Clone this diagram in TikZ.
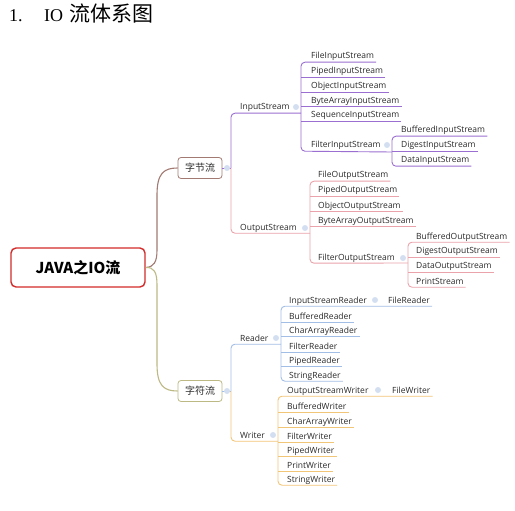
\documentclass[tikz,border=0pt]{standalone}
\usepackage{fontspec}
\setmainfont{Liberation Serif}
\newfontfamily\cjk{Noto Sans CJK SC}
\newfontfamily\lblf{Open Sans}
\definecolor{purp}{HTML}{9A6FD1}
\definecolor{pnk}{HTML}{EBA3AB}
\definecolor{blu}{HTML}{A3BEE6}
\definecolor{yel}{HTML}{F2C679}
\definecolor{brn}{HTML}{A27A72}
\definecolor{olv}{HTML}{BDB985}
\definecolor{mk}{HTML}{D3DFF1}
\definecolor{txt}{HTML}{2A2A2A}
\definecolor{javared}{HTML}{D42B2B}
\tikzset{
  lbl/.style={font=\lblf\fontsize{8.5}{10}\selectfont, text=txt, inner xsep=2, inner ysep=3, text height=6, text depth=0, anchor=base west},
  cbox/.style={draw, rounded corners=3, line width=0.8, minimum width=44, minimum height=21, inner sep=0, fill=white, font=\cjk\fontsize{10}{12}\selectfont, text=txt},
  mkr/.style={circle, fill=mk, minimum size=6, inner sep=0},
  br/.style={line width=0.9, rounded corners=4},
}
\begin{document}
\begin{tikzpicture}[x=1pt,y=-1pt]
\useasboundingbox[fill=white] (0,0) rectangle (515,511);

% title
\node[anchor=base west, inner sep=0, font=\fontsize{18}{20}\selectfont] (t1) at (9,22) {1.};
\node[anchor=base west, inner sep=0, font=\fontsize{18}{20}\selectfont] (t2) at (44,22) {IO};
\node[anchor=base west, inner sep=0, font=\cjk\fontsize{21}{23}\selectfont] (t3) at (69,22) {流体系图};

% root
\node[draw=javared, line width=1.4, rounded corners=5, minimum width=134, minimum height=39, inner sep=0, text=black,
      font=\cjk\bfseries\fontsize{15}{17}\selectfont] (java) at (78,267.5) {JAVA之IO流};

\node[cbox, draw=brn] (zj) at (200,168) {字节流};
\node[cbox, draw=olv] (zf) at (200,391) {字符流};

\draw[brn, line width=1.1] (java.east) .. controls (154,267) and (157,262) .. (157,250) -- (157,195) .. controls (157,173) and (164,168) .. (zj.west);
\draw[olv, line width=1.1] (java.east) .. controls (154,267) and (157,272) .. (157,285) -- (157,364) .. controls (157,386) and (164,391) .. (zf.west);

% ---------- byte streams ----------
\coordinate (zjv) at (231,168);
\node[lbl] (is) at (238,110) {InputStream};
\node[lbl] (os) at (238,230) {OutputStream};
\coordinate (isV) at (301,113);
\coordinate (fisV) at (392,152);
\coordinate (osV) at (310,233);
\coordinate (fosV) at (408,263);

\node[lbl] (fis) at (309,59) {FileInputStream};
\node[lbl] (pis) at (309,74) {PipedInputStream};
\node[lbl] (ois) at (309,89) {ObjectInputStream};
\node[lbl] (bais) at (309,103) {ByteArrayInputStream};
\node[lbl] (sis) at (309,118) {SequenceInputStream};
\node[lbl] (fltis) at (309,148) {FilterInputStream};
\node[lbl] (bis) at (399,133) {BufferedInputStream};
\node[lbl] (dis) at (399,148) {DigestInputStream};
\node[lbl] (dais) at (399,163) {DataInputStream};

\node[lbl] (fos) at (316,178) {FileOutputStream};
\node[lbl] (pos) at (316,193) {PipedOutputStream};
\node[lbl] (oos) at (316,208) {ObjectOutputStream};
\node[lbl] (baos) at (316,223) {ByteArrayOutputStream};
\node[lbl] (fltos) at (316,260) {FilterOutputStream};
\node[lbl] (bos) at (414,239) {BufferedOutputStream};
\node[lbl] (dos) at (414,254) {DigestOutputStream};
\node[lbl] (daos) at (414,269) {DataOutputStream};
\node[lbl] (ps) at (414,284) {PrintStream};

\draw[purp, br] (zj.east) -- (zjv);
\draw[purp, br] (zjv) |- (is.south -| isV);
\draw[pnk, br] (zjv) |- (os.south -| osV);

\draw[purp, br] (fis.south east) -- (fis.south west -| isV) -- (fltis.south west -| isV) -- (fisV);
\foreach \n in {pis,ois,bais,sis} \draw[purp, line width=0.9] (\n.south west -| isV) -- (\n.south east);
\draw[purp, br] (bis.south east) -- (bis.south west -| fisV) -- (dais.south west -| fisV) -- (dais.south east);
\draw[purp, line width=0.9] (dis.south west -| fisV) -- (dis.south east);

\draw[pnk, br] (fos.south east) -- (fos.south west -| osV) -- (fltos.south west -| osV) -- (fosV);
\foreach \n in {pos,oos,baos} \draw[pnk, line width=0.9] (\n.south west -| osV) -- (\n.south east);
\draw[pnk, br] (bos.south east) -- (bos.south west -| fosV) -- (ps.south west -| fosV) -- (ps.south east);
\foreach \n in {dos,daos} \draw[pnk, line width=0.9] (\n.south west -| fosV) -- (\n.south east);

% ---------- character streams ----------
\coordinate (zfv) at (231,391);
\node[lbl] (rd) at (238,341) {Reader};
\node[lbl] (wr) at (238,438) {Writer};
\coordinate (rdV) at (281,344);
\coordinate (wrV) at (278,441);

\node[lbl] (isr) at (287,303) {InputStreamReader};
\node[lbl] (frd) at (386,303) {FileReader};
\node[lbl] (brd) at (287,319) {BufferedReader};
\node[lbl] (car) at (287,333) {CharArrayReader};
\node[lbl] (fltr) at (287,349) {FilterReader};
\node[lbl] (pr) at (287,363) {PipedReader};
\node[lbl] (sr) at (287,378) {StringReader};

\node[lbl] (osw) at (285,393) {OutputStreamWriter};
\node[lbl] (fwr) at (390,393) {FileWriter};
\node[lbl] (bw) at (285,409) {BufferedWriter};
\node[lbl] (caw) at (285,424) {CharArrayWriter};
\node[lbl] (fw) at (285,439) {FilterWriter};
\node[lbl] (pw) at (285,453) {PipedWriter};
\node[lbl] (prw) at (285,468) {PrintWriter};
\node[lbl] (sw) at (285,482) {StringWriter};

\draw[blu, br] (zf.east) -- (zfv);
\draw[blu, br] (zfv) |- (rd.south -| rdV);
\draw[yel, br] (zfv) |- (wr.south -| wrV);

\draw[blu, br] (frd.south east) -- (isr.south west -| rdV) -- (sr.south west -| rdV) -- (sr.south east);
\foreach \n in {brd,car,fltr,pr} \draw[blu, line width=0.9] (\n.south west -| rdV) -- (\n.south east);

\draw[yel, br] (fwr.south east) -- (osw.south west -| wrV) -- (sw.south west -| wrV) -- (sw.south east);
\foreach \n in {bw,caw,fw,pw,prw} \draw[yel, line width=0.9] (\n.south west -| wrV) -- (\n.south east);

% collapse markers
\node[mkr] (m1) at (227,168) {};
\node[mkr] (m2) at (296,107) {};
\node[mkr] (m3) at (387,145) {};
\node[mkr] (m4) at (305,228) {};
\node[mkr] (m5) at (403,258) {};
\node[mkr] (m6) at (227,391) {};
\node[mkr] (m7) at (276,338) {};
\node[mkr] (m8) at (375,300) {};
\node[mkr] (m9) at (273,435) {};
\node[mkr] (m10) at (378,390) {};
\end{tikzpicture}
\end{document}
